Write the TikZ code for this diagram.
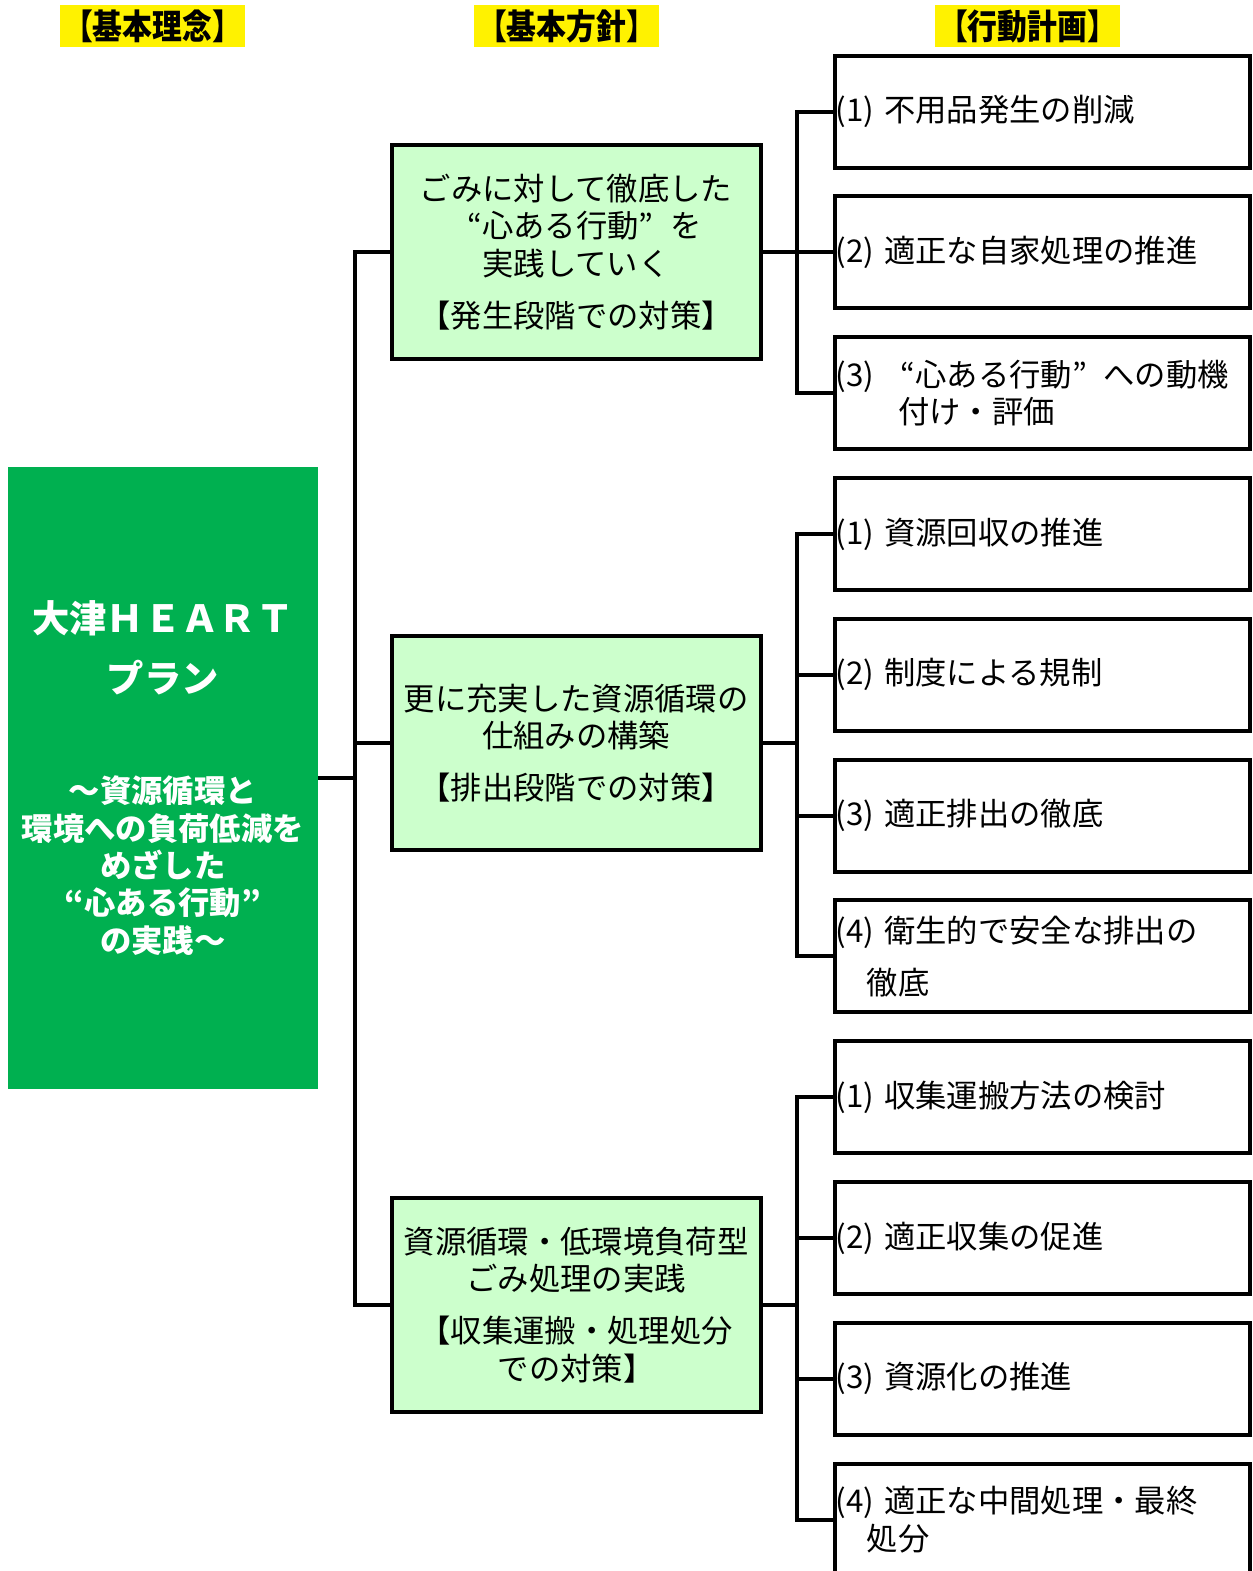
\documentclass[tikz,border=0pt]{standalone}
\usepackage{fontspec}
\usepackage{tikz}
\usetikzlibrary{positioning}
\newfontfamily\jpfont{Noto Sans CJK JP}
\newfontfamily\headfont{Noto Sans CJK JP}[FakeStretch=0.86]
\definecolor{plangreen}{HTML}{00B050}
\definecolor{policygreen}{HTML}{CCFFCC}
\newcommand{\itemno}[1]{\makebox[1.55em][l]{(#1)}}
\newcommand{\openq}{\makebox[1em][r]{“}}
\newcommand{\closeq}{\makebox[1em][l]{”}}

\begin{document}
\begin{tikzpicture}[x=0.75pt, y=-0.75pt, node distance=18.6pt,
    head/.style = {fill=yellow, minimum width=138.75pt, minimum height=31.5pt, inner sep=0pt,
        font=\headfont\bfseries\fontsize{26pt}{28pt}\selectfont},
    plan/.style = {fill=plangreen, text=white, align=center, text width=228pt, inner xsep=2.25pt,
        minimum height=466.5pt, font=\jpfont\bfseries\fontsize{23.5pt}{28pt}\selectfont},
    policy/.style = {draw, line width=3pt, fill=policygreen, minimum width=276.75pt, minimum height=161pt,
        align=center, font=\jpfont\fontsize{23.5pt}{28pt}\selectfont},
    action/.style = {draw, line width=3pt, text width=310.8pt, inner xsep=0.4pt, minimum height=84pt,
        align=left, font=\jpfont\fontsize{23.5pt}{28pt}\selectfont},
    link/.style = {line width=3pt}]
            \useasboundingbox (0,0) rectangle (1253,1571);
            % Headings
            \node[head] (h1) at (152.5,26) {【基本理念】};
            \node[head] (h2) at (566.5,26) {【基本方針】};
            \node[head] (h3) at (1027.5,26) {【行動計画】};
            % Nodes
            \node[plan] (plan) at (163,778) {{\fontsize{28pt}{28pt}\selectfont 大津ＨＥＡＲＴ\\[17pt]プラン}\\[54.5pt]
                ～資源循環と\\環境への負荷低減を\\めざした\\\openq 心ある行動\closeq\\の実践～};
            \node[policy] (p1) at (576,252) {ごみに対して徹底した\\\openq 心ある行動\closeq を\\実践していく\\[11pt]【発生段階での対策】};
            \node[policy] (p2) at (576,743) {更に充実した資源循環の\\仕組みの構築\\[11pt]【排出段階での対策】};
            \node[policy] (p3) at (576,1305) {資源循環・低環境負荷型\\ごみ処理の実践\\[11pt]【収集運搬・処理処分\\での対策】};
            \node[action] (a1) at (1042.75,111.5) {\itemno{1}不用品発生の削減};
            \node[action] (a2) [below=of a1] {\itemno{2}適正な自家処理の推進};
            \node[action] (a3) [below=of a2] {\itemno{3}\openq 心ある行動\closeq への動機\\\hspace*{2em}付け・評価};
            \node[action] (a4) [below=of a3] {\itemno{1}資源回収の推進};
            \node[action] (a5) [below=of a4] {\itemno{2}制度による規制};
            \node[action] (a6) [below=of a5] {\itemno{3}適正排出の徹底};
            \node[action] (a7) [below=of a6] {\itemno{4}衛生的で安全な排出の\\[11pt]\hspace*{1em}徹底};
            \node[action] (a8) [below=of a7] {\itemno{1}収集運搬方法の検討};
            \node[action] (a9) [below=of a8] {\itemno{2}適正収集の促進};
            \node[action] (a10) [below=of a9] {\itemno{3}資源化の推進};
            \node[action] (a11) [below=of a10] {\itemno{4}適正な中間処理・最終\\\hspace*{1em}処分};
            % Junctions
            \coordinate (trunk) at ([xshift=27.5pt]plan.east);
            \coordinate (j1) at ([xshift=26pt]p1.east);
            \coordinate (j2) at ([xshift=26pt]p2.east);
            \coordinate (j3) at ([xshift=26pt]p3.east);
            % Edges
            \draw[link] (plan.east) -- (trunk);
            \draw[link] (p1.west) -| (trunk);
            \draw[link] (p2.west) -| (trunk);
            \draw[link] (p3.west) -| (trunk);
            \draw[link] (p1.east) -- (j1);
            \draw[link] (a1.west) -| (j1);
            \draw[link] (a2.west) -| (j1);
            \draw[link] (a3.west) -| (j1);
            \draw[link] (p2.east) -- (j2);
            \draw[link] (a4.west) -| (j2);
            \draw[link] (a5.west) -| (j2);
            \draw[link] (a6.west) -| (j2);
            \draw[link] (a7.west) -| (j2);
            \draw[link] (p3.east) -- (j3);
            \draw[link] (a8.west) -| (j3);
            \draw[link] (a9.west) -| (j3);
            \draw[link] (a10.west) -| (j3);
            \draw[link] (a11.west) -| (j3);
\end{tikzpicture}
\end{document}
